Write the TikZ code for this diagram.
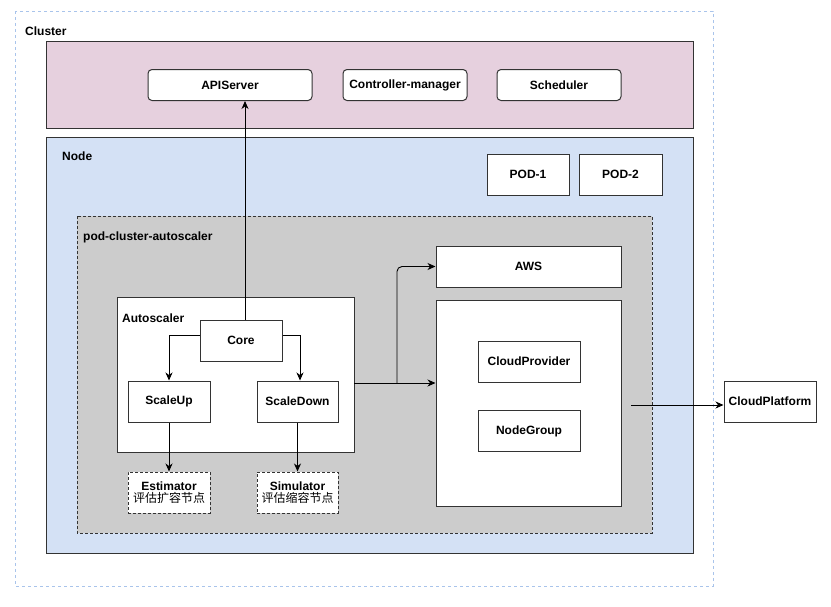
\documentclass[tikz,border=0pt]{standalone}
\usepackage{fontspec}
\setmainfont{Liberation Sans}
\newfontfamily\cjk{Noto Sans CJK SC}
\usetikzlibrary{arrows.meta}

\definecolor{linec}{HTML}{333333}
\definecolor{clusterc}{HTML}{A9C4EB}
\definecolor{pinkc}{HTML}{E6D0DE}
\definecolor{nodec}{HTML}{D4E1F5}
\definecolor{grayc}{HTML}{CCCCCC}

\begin{document}
\begin{tikzpicture}[x=1pt,y=-1pt,
        font=\fontsize{12}{14}\selectfont\bfseries,
        box/.style={draw=linec,fill=white,line width=1pt,inner sep=0pt,
            minimum height=41pt},
        rbox/.style={box,rounded corners=4pt,minimum height=31pt},
        dbox/.style={box,densely dashed,align=center},
        lbl/.style={anchor=west,inner sep=0pt},
        arr/.style={-{Stealth[length=8pt,width=7pt,inset=2.5pt]},line width=0.9pt}
    ]
        \useasboundingbox (0,0) rectangle (831,606);

        % cluster frame
        \draw[clusterc,line width=1pt,dash pattern=on 3pt off 3pt] (15,11) rectangle (713,586);
        \node[lbl] (clusterlbl) at (25,31) {Cluster};

        % control plane
        \draw[linec,fill=pinkc,line width=1pt] (46,41) rectangle (693,128);
        \node[rbox,minimum width=164pt] (api) at (230,85) {APIServer};
        \node[rbox,minimum width=124pt] (ctrl) at (405,85) {Controller-manager};
        \node[rbox,minimum width=124pt] (sched) at (559,85) {Scheduler};

        % node
        \draw[linec,fill=nodec,line width=1pt] (46,137) rectangle (693,553);
        \node[lbl] (nodelbl) at (62,156) {Node};
        \node[box,minimum width=82pt] (pod1) at (528,174.5) {POD-1};
        \node[box,minimum width=83pt] (pod2) at (620.5,174.5) {POD-2};

        % autoscaler pod
        \draw[linec,fill=grayc,line width=1pt,dash pattern=on 3pt off 2pt] (77,216) rectangle (652,533);
        \node[lbl] (pcalbl) at (83,237) {pod-cluster-autoscaler};

        \node[box,minimum width=185pt] (aws) at (528.5,266.5) {AWS};
        \node[box,minimum width=185pt,minimum height=206pt] (cpbox) at (528.5,403) {};
        \node[box,minimum width=102pt] (provider) at (529,361.5) {CloudProvider};
        \node[box,minimum width=102pt] (group) at (529,431) {NodeGroup};

        \node[box,minimum width=237pt,minimum height=155pt] (autoscaler) at (235.5,374.5) {};
        \node[lbl] (aslbl) at (122,318) {Autoscaler};
        \node[box,minimum width=82pt] (core) at (241,340.5) {Core};
        \node[box,minimum width=82pt] (scaleup) at (169,401.5) {ScaleUp};
        \node[box,minimum width=81pt] (scaledown) at (297.5,401.5) {ScaleDown};
        \node[dbox,minimum width=82pt] (estimator) at (169,492.5)
            {Estimator\\[-2pt]{\cjk\mdseries 评估扩容节点}};
        \node[dbox,minimum width=81pt] (simulator) at (297.5,492.5)
            {Simulator\\[-2pt]{\cjk\mdseries 评估缩容节点}};

        \node[box,minimum width=92pt] (platform) at (770,401.5) {CloudPlatform};

        % connectors
        \coordinate (coretop) at (245,320);
        \draw[arr] (coretop) -- (coretop |- api.south);
        \draw[arr] ([yshift=5.5pt]core.west) -| (scaleup.north);
        \draw[arr] ([yshift=5.5pt]core.east) -| ([xshift=2.5pt]scaledown.north);
        \draw[arr] (scaleup) -- (estimator);
        \draw[arr] (scaledown) -- (simulator);

        \coordinate (asout) at (354,383);
        \coordinate (split) at (397,383);
        \draw[arr] (asout) -- (asout -| cpbox.west);
        \draw[arr,rounded corners=5pt] (split) |- (aws.west);

        \coordinate (cpout) at (631,405);
        \draw[arr] (cpout) -- (cpout -| platform.west);
\end{tikzpicture}
\end{document}
